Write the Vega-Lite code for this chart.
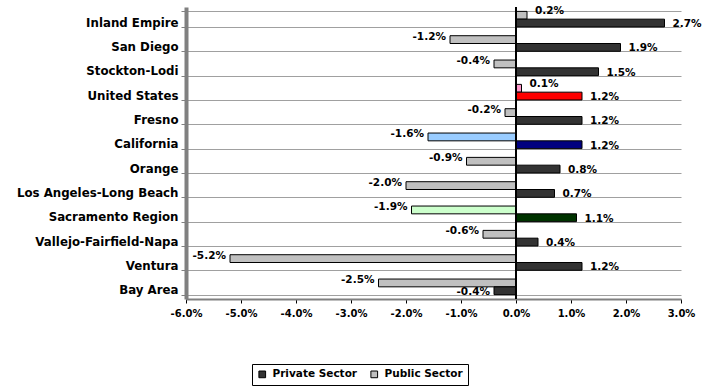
{
  "$schema": "https://vega.github.io/schema/vega-lite/v6.json",
  "autosize": {"type": "none"},
  "width": 495,
  "height": 292,
  "padding": {"left": 186, "top": 7, "right": 44, "bottom": 93},
  "config": {
    "font": "DejaVu Sans",
    "view": {"stroke": null},
    "locale": {"number": {"decimal": ".", "thousands": ",", "grouping": [3], "currency": ["$", ""], "minus": "-"}}
  },
  "data": {
    "values": [
      {"region": "Inland Empire", "sector": "Public Sector", "value": 0.002},
      {"region": "Inland Empire", "sector": "Private Sector", "value": 0.027},
      {"region": "San Diego", "sector": "Public Sector", "value": -0.012},
      {"region": "San Diego", "sector": "Private Sector", "value": 0.019},
      {"region": "Stockton-Lodi", "sector": "Public Sector", "value": -0.004},
      {"region": "Stockton-Lodi", "sector": "Private Sector", "value": 0.015},
      {"region": "United States", "sector": "Public Sector", "value": 0.001},
      {"region": "United States", "sector": "Private Sector", "value": 0.012},
      {"region": "Fresno", "sector": "Public Sector", "value": -0.002},
      {"region": "Fresno", "sector": "Private Sector", "value": 0.012},
      {"region": "California", "sector": "Public Sector", "value": -0.016},
      {"region": "California", "sector": "Private Sector", "value": 0.012},
      {"region": "Orange", "sector": "Public Sector", "value": -0.009},
      {"region": "Orange", "sector": "Private Sector", "value": 0.008},
      {"region": "Los Angeles-Long Beach", "sector": "Public Sector", "value": -0.020},
      {"region": "Los Angeles-Long Beach", "sector": "Private Sector", "value": 0.007},
      {"region": "Sacramento Region", "sector": "Public Sector", "value": -0.019},
      {"region": "Sacramento Region", "sector": "Private Sector", "value": 0.011},
      {"region": "Vallejo-Fairfield-Napa", "sector": "Public Sector", "value": -0.006},
      {"region": "Vallejo-Fairfield-Napa", "sector": "Private Sector", "value": 0.004},
      {"region": "Ventura", "sector": "Public Sector", "value": -0.052},
      {"region": "Ventura", "sector": "Private Sector", "value": 0.012},
      {"region": "Bay Area", "sector": "Public Sector", "value": -0.025},
      {"region": "Bay Area", "sector": "Private Sector", "value": -0.004}
    ]
  },
  "transform": [
    {"calculate": "(datum.region == 'United States' || datum.region == 'California' || datum.region == 'Sacramento Region') ? datum.region + ' ' + datum.sector : datum.sector", "as": "key"}
  ],
  "encoding": {
    "y": {
      "field": "region",
      "type": "nominal",
      "sort": null,
      "scale": {"paddingInner": 0.36, "paddingOuter": 0.18},
      "axis": {
        "title": null,
        "labelFontWeight": "bold",
        "labelFontSize": 11.8,
        "labelColor": "#000000",
        "labelOffset": 3,
        "labelPadding": 3,
        "tickBand": "extent",
        "tickSize": 5,
        "tickColor": "#808080",
        "domainColor": "#808080",
        "domainWidth": 4,
        "grid": true,
        "gridColor": "#a0a0a0",
        "gridWidth": 1
      }
    },
    "yOffset": {"field": "sector", "type": "nominal", "sort": ["Public Sector", "Private Sector"]}
  },
  "layer": [
    {
      "mark": {"type": "bar", "stroke": "#000000", "strokeWidth": 1},
      "encoding": {
        "x": {
          "field": "value",
          "type": "quantitative",
          "scale": {"domain": [-0.06, 0.03], "nice": false, "zero": false},
          "axis": {
            "title": null,
            "values": [-0.06, -0.05, -0.04, -0.03, -0.02, -0.01, 0, 0.01, 0.02, 0.03],
            "format": ".1%",
            "grid": false,
            "labelFontWeight": "bold",
            "labelFontSize": 10,
            "labelColor": "#000000",
            "labelPadding": 5,
            "tickColor": "#000000",
            "tickSize": 4,
            "domainColor": "#808080",
            "domainWidth": 2,
            "labelFlush": false
          }
        },
        "color": {
          "field": "key",
          "type": "nominal",
          "scale": {
            "domain": ["Private Sector", "Public Sector", "United States Private Sector", "United States Public Sector", "California Private Sector", "California Public Sector", "Sacramento Region Private Sector", "Sacramento Region Public Sector"],
            "range": ["#333333", "#c0c0c0", "#ff0000", "#ff99cc", "#000080", "#99ccff", "#003300", "#ccffcc"]
          },
          "legend": {
            "title": null,
            "values": ["Private Sector", "Public Sector"],
            "orient": "none",
            "legendX": 66,
            "legendY": 357,
            "direction": "horizontal",
            "strokeColor": "#000000",
            "padding": 5,
            "symbolType": "square",
            "symbolSize": 45,
            "symbolStrokeColor": "#000000",
            "symbolStrokeWidth": 1,
            "symbolOpacity": 1,
            "labelOffset": 5,
            "labelFontWeight": "bold",
            "labelFontSize": 10.5,
            "labelColor": "#000000",
            "columnPadding": 10
          }
        }
      }
    },
    {
      "mark": {"type": "rule", "stroke": "#000000", "strokeWidth": 1.5},
      "encoding": {"x": {"datum": 0, "type": "quantitative"}, "y": null, "yOffset": null}
    },
    {
      "transform": [{"filter": "datum.value >= 0 && datum.sector == 'Private Sector'"}],
      "mark": {"type": "text", "align": "left", "dx": 8, "dy": 1, "fontWeight": "bold", "fontSize": 10.5},
      "encoding": {"x": {"field": "value", "type": "quantitative"}, "text": {"field": "value", "type": "quantitative", "format": ".1%"}}
    },
    {
      "transform": [{"filter": "datum.value < 0 && datum.sector == 'Private Sector'"}],
      "mark": {"type": "text", "align": "right", "dx": -4, "dy": 1, "fontWeight": "bold", "fontSize": 10.5},
      "encoding": {"x": {"field": "value", "type": "quantitative"}, "text": {"field": "value", "type": "quantitative", "format": ".1%"}}
    },
    {
      "transform": [{"filter": "datum.value >= 0 && datum.sector == 'Public Sector'"}],
      "mark": {"type": "text", "align": "left", "dx": 8, "dy": -4, "fontWeight": "bold", "fontSize": 10.5},
      "encoding": {"x": {"field": "value", "type": "quantitative"}, "text": {"field": "value", "type": "quantitative", "format": ".1%"}}
    },
    {
      "transform": [{"filter": "datum.value < 0 && datum.sector == 'Public Sector'"}],
      "mark": {"type": "text", "align": "right", "dx": -4, "dy": -3, "fontWeight": "bold", "fontSize": 10.5},
      "encoding": {"x": {"field": "value", "type": "quantitative"}, "text": {"field": "value", "type": "quantitative", "format": ".1%"}}
    }
  ]
}
